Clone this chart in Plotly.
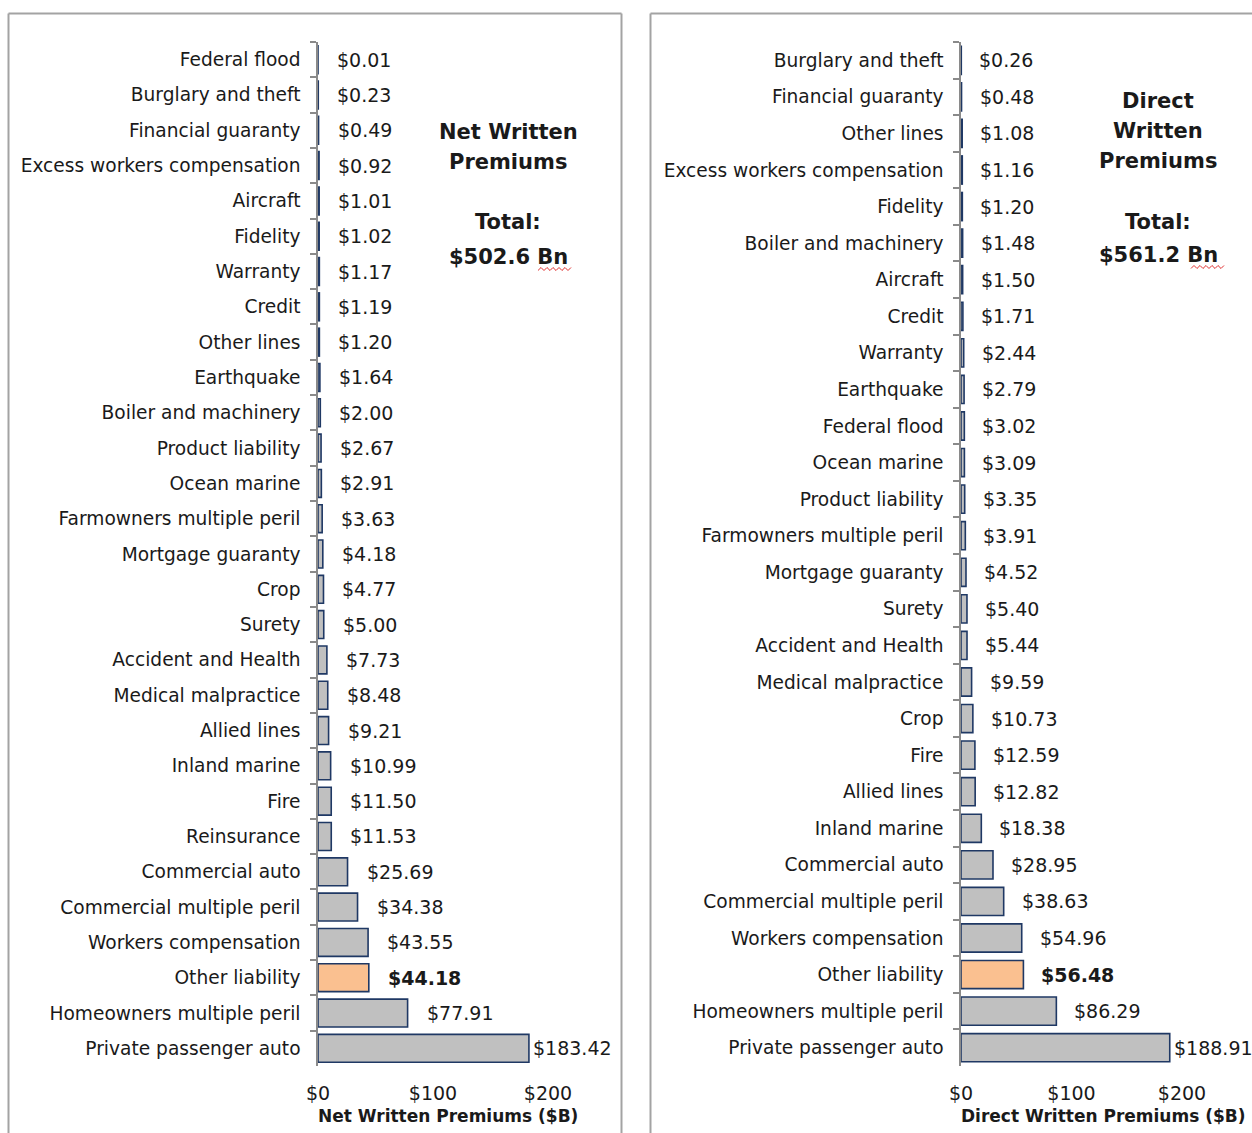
import plotly.graph_objects as go

# ---------------- data ----------------
net_categories = [
    "Federal flood", "Burglary and theft", "Financial guaranty", "Excess workers compensation",
    "Aircraft", "Fidelity", "Warranty", "Credit", "Other lines", "Earthquake",
    "Boiler and machinery", "Product liability", "Ocean marine", "Farmowners multiple peril",
    "Mortgage guaranty", "Crop", "Surety", "Accident and Health", "Medical malpractice",
    "Allied lines", "Inland marine", "Fire", "Reinsurance", "Commercial auto",
    "Commercial multiple peril", "Workers compensation", "Other liability",
    "Homeowners multiple peril", "Private passenger auto",
]
net_values = [
    0.01, 0.23, 0.49, 0.92, 1.01, 1.02, 1.17, 1.19, 1.20, 1.64,
    2.00, 2.67, 2.91, 3.63, 4.18, 4.77, 5.00, 7.73, 8.48, 9.21,
    10.99, 11.50, 11.53, 25.69, 34.38, 43.55, 44.18, 77.91, 183.42,
]
direct_categories = [
    "Burglary and theft", "Financial guaranty", "Other lines", "Excess workers compensation",
    "Fidelity", "Boiler and machinery", "Aircraft", "Credit", "Warranty", "Earthquake",
    "Federal flood", "Ocean marine", "Product liability", "Farmowners multiple peril",
    "Mortgage guaranty", "Surety", "Accident and Health", "Medical malpractice", "Crop",
    "Fire", "Allied lines", "Inland marine", "Commercial auto", "Commercial multiple peril",
    "Workers compensation", "Other liability", "Homeowners multiple peril",
    "Private passenger auto",
]
direct_values = [
    0.26, 0.48, 1.08, 1.16, 1.20, 1.48, 1.50, 1.71, 2.44, 2.79,
    3.02, 3.09, 3.35, 3.91, 4.52, 5.40, 5.44, 9.59, 10.73, 12.59,
    12.82, 18.38, 28.95, 38.63, 54.96, 56.48, 86.29, 188.91,
]
highlight = "Other liability"
tick_values = [0, 100, 200]
tick_labels = ["$0", "$100", "$200"]
net_title = ["Net Written", "Premiums"]
direct_title = ["Direct", "Written", "Premiums"]
net_total = "$502.6 Bn"
direct_total = "$561.2 Bn"

# ---------------- style ----------------
W, H = 1252, 1133
FONT = "DejaVu Sans"
TXT = "#1a1a1a"
GRAY_FILL = "#c0c0c0"
ORANGE = "#fac090"
NAVY = "#1f3864"
AXIS = "#8a8a8a"
FRAME = "#a3a3a3"


def px(x):
    return x / W


def py(y):
    return 1 - y / H


fig = go.Figure()

panels = [
    dict(cats=net_categories, vals=net_values, xa="x", ya="y",
         x0=318, x1=548, width=0.79, title=net_title, total=net_total,
         tcx=508, tys=[132, 162], totys=[222, 257],
         axtitle="Net Written Premiums ($B)", axcx=448, shift=17),
    dict(cats=direct_categories, vals=direct_values, xa="x2", ya="y2",
         x0=961, x1=1182, width=0.77, title=direct_title, total=direct_total,
         tcx=1158, tys=[101, 131, 161], totys=[222, 255],
         axtitle="Direct Written Premiums ($B)", axcx=1103, shift=16),
]

annotations = []
for i, p in enumerate(panels):
    colors = [ORANGE if c == highlight else GRAY_FILL for c in p["cats"]]
    fig.add_trace(go.Bar(
        x=p["vals"], y=p["cats"], orientation="h",
        xaxis=p["xa"], yaxis=p["ya"],
        marker=dict(color=colors, line=dict(color=NAVY, width=1.6)),
        width=p["width"], showlegend=False, hoverinfo="x+y",
    ))
    for c, v in zip(p["cats"], p["vals"]):
        t = f"${v:.2f}"
        if c == highlight:
            t = f"<b>{t}</b>"
        annotations.append(dict(
            x=v, y=c, xref=p["xa"], yref=p["ya"], text=t, showarrow=False,
            xanchor="left", yanchor="middle", xshift=2 if v > 150 else p["shift"],
            font=dict(family=FONT, size=19, color=TXT),
        ))
    for line, yy in zip(p["title"], p["tys"]):
        annotations.append(dict(
            x=px(p["tcx"]), y=py(yy), xref="paper", yref="paper", text=f"<b>{line}</b>",
            showarrow=False, xanchor="center", yanchor="middle",
            font=dict(family=FONT, size=21, color=TXT),
        ))
    for line, yy in zip(["Total:", p["total"]], p["totys"]):
        annotations.append(dict(
            x=px(p["tcx"]), y=py(yy), xref="paper", yref="paper", text=f"<b>{line}</b>",
            showarrow=False, xanchor="center", yanchor="middle",
            font=dict(family=FONT, size=21, color=TXT),
        ))
    annotations.append(dict(
        x=px(p["axcx"]), y=py(1116), xref="paper", yref="paper", text=f"<b>{p['axtitle']}</b>",
        showarrow=False, xanchor="center", yanchor="middle",
        font=dict(family=FONT, size=17, color=TXT),
    ))

    n = len(p["cats"])
    sfx = "" if i == 0 else "2"
    top_sfx = "3" if i == 0 else "4"
    dom_x = [px(p["x0"]), px(p["x1"])]
    dom_y = [py(1066), py(42)]
    fig.update_layout(**{
        f"xaxis{sfx}": dict(
            domain=dom_x, range=[0, 200], anchor=p["ya"], automargin=False,
            tickvals=tick_values, ticktext=tick_labels,
            showline=False, showgrid=False, zeroline=False,
            ticks="outside", ticklen=10, tickcolor="rgba(0,0,0,0)",
            tickfont=dict(family=FONT, size=19, color=TXT),
        ),
        f"xaxis{top_sfx}": dict(
            overlaying=p["xa"], side="top", anchor=p["ya"], range=[0, 200], automargin=False,
            tickvals=tick_values, showticklabels=False,
            showline=True, linecolor=AXIS, linewidth=1.5,
            ticks="outside", ticklen=6, tickcolor=AXIS, tickwidth=1.5,
            showgrid=False, zeroline=False,
        ),
        f"yaxis{sfx}": dict(
            domain=dom_y, anchor=p["xa"], type="category", automargin=False,
            categoryorder="array", categoryarray=p["cats"],
            range=[n - 0.5, -0.5],
            showline=True, linecolor=AXIS, linewidth=1.5,
            ticks="outside", tickson="boundaries", ticklen=6, tickcolor=AXIS, tickwidth=1.5,
            showgrid=False, zeroline=False, ticklabelstandoff=12,
            tickfont=dict(family=FONT, size=18.6, color=TXT),
        ),
    })


# panel frames (open at the bottom, kept inside the page)
def seg(x0, y0, x1, y1):
    return dict(type="line", xref="paper", yref="paper",
                x0=px(x0), y0=py(y0), x1=px(x1), y1=py(y1),
                line=dict(color=FRAME, width=2), layer="below")


shapes = [
    seg(8.5, 13.5, 8.5, 1133), seg(8.5, 13.5, 621.5, 13.5), seg(621.5, 13.5, 621.5, 1133),
    seg(650.5, 13.5, 650.5, 1133), seg(650.5, 13.5, 1252, 13.5),
]


# red spell-check squiggles under "Bn"
def squiggle(xs, xe, y):
    pts = []
    k = 0
    x = xs
    while x <= xe:
        yy = y + (1.5 if k % 2 == 0 else -1.5)
        pts.append(f"{px(x):.5f},{py(yy):.5f}")
        x += 3
        k += 1
    return "M " + " L ".join(pts)


for xs, xe, yy in [(538, 573, 269), (1191, 1224, 267)]:
    shapes.append(dict(type="path", xref="paper", yref="paper", path=squiggle(xs, xe, yy),
                       line=dict(color="#e03030", width=1)))

fig.update_layout(
    width=W, height=H, margin=dict(l=0, r=0, t=0, b=0, autoexpand=False),
    paper_bgcolor="white", plot_bgcolor="white",
    annotations=annotations, shapes=shapes, bargap=0.2,
    font=dict(family=FONT, color=TXT),
)

fig.write_html("out.html")
